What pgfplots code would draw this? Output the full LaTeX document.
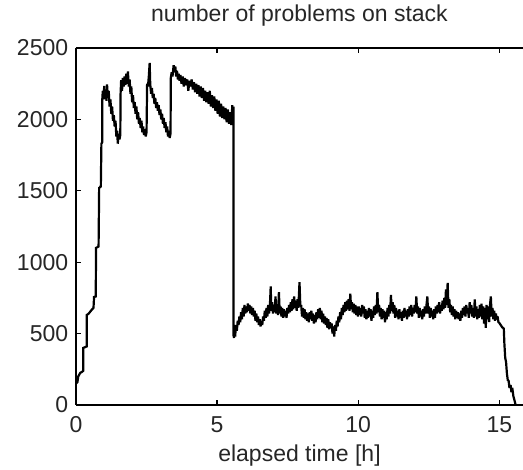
\documentclass[border=0pt]{standalone}
\usepackage{pgfplots}
\pgfplotsset{compat=1.18}
\usepackage{pgfplotstable}
\usepackage{fontspec}
\setmainfont{Liberation Sans}
\pgfplotstableread{
t v
0.00 150
0.05 160
0.08 200
0.15 225
0.20 230
0.26 240
0.26 400
0.32 405
0.38 410
0.38 630
0.45 640
0.55 665
0.62 680
0.64 756
0.70 760
0.71 1100
0.80 1110
0.82 1520
0.88 1530
0.90 1830
0.93 1840
0.93 2135
0.95 2200
0.98 2150
1.00 2235
1.02 2140
1.05 2210
1.08 2130
1.10 2245
1.13 2150
1.16 2200
1.19 2090
1.22 2140
1.25 2040
1.28 2090
1.31 1990
1.34 2030
1.37 1950
1.40 1990
1.43 1880
1.46 1920
1.48 1830
1.51 1900
1.54 1860
1.57 1890
1.58 2180
1.60 2275
1.63 2200
1.66 2290
1.69 2230
1.72 2300
1.75 2240
1.78 2320
1.81 2250
1.84 2335
1.87 2230
1.90 2280
1.93 2180
1.96 2230
1.99 2120
2.02 2170
2.05 2080
2.08 2120
2.11 2040
2.14 2090
2.17 2000
2.20 2050
2.23 1970
2.26 2010
2.29 1940
2.32 1990
2.35 1910
2.38 1950
2.41 1890
2.44 1930
2.47 1880
2.50 1910
2.52 2250
2.55 2230
2.58 2300
2.61 2395
2.63 2250
2.66 2180
2.69 2220
2.72 2150
2.75 2180
2.78 2110
2.81 2150
2.84 2080
2.87 2120
2.90 2060
2.93 2100
2.96 2030
2.99 2070
3.02 2000
3.05 2040
3.08 1970
3.11 2010
3.14 1940
3.17 1980
3.20 1910
3.23 1950
3.26 1880
3.29 1920
3.32 1870
3.35 1900
3.36 2290
3.39 2330
3.42 2300
3.46 2380
3.49 2330
3.52 2370
3.55 2300
3.58 2340
3.61 2280
3.64 2320
3.67 2270
3.70 2310
3.74 2250
3.78 2300
3.82 2230
3.86 2290
3.90 2240
3.94 2280
3.98 2200
4.02 2270
4.06 2230
4.10 2280
4.14 2210
4.18 2260
4.22 2190
4.26 2250
4.30 2180
4.34 2240
4.38 2160
4.42 2230
4.46 2150
4.50 2220
4.54 2130
4.58 2200
4.62 2120
4.66 2190
4.70 2110
4.74 2200
4.78 2090
4.82 2170
4.86 2080
4.90 2160
4.94 2060
4.98 2140
5.02 2040
5.06 2130
5.10 2020
5.14 2110
5.18 2010
5.22 2090
5.26 2000
5.30 2080
5.34 1980
5.38 2070
5.42 1970
5.46 2050
5.50 1960
5.54 2100
5.56 1980
5.58 2090
5.58 490
5.60 470
5.62 540
5.64 480
5.67 560
5.70 520
5.73 590
5.76 560
5.79 620
5.82 580
5.85 650
5.88 600
5.91 680
5.94 620
5.97 700
6.00 640
6.03 690
6.06 650
6.09 710
6.12 660
6.15 700
6.18 640
6.21 690
6.24 630
6.27 680
6.30 620
6.33 660
6.36 590
6.39 640
6.42 580
6.45 620
6.48 560
6.51 600
6.54 550
6.57 590
6.60 560
6.63 620
6.66 590
6.69 660
6.72 610
6.75 680
6.78 620
6.81 700
6.84 640
6.87 690
6.90 830
6.92 660
6.95 720
6.98 640
7.01 700
7.04 650
7.07 760
7.10 640
7.13 700
7.16 630
7.19 790
7.22 640
7.25 690
7.28 620
7.31 680
7.34 610
7.37 670
7.40 620
7.43 660
7.46 610
7.49 680
7.52 640
7.55 700
7.58 650
7.61 720
7.64 660
7.67 740
7.70 670
7.73 760
7.76 680
7.79 730
7.82 660
7.85 740
7.88 680
7.92 860
7.95 690
7.98 700
8.01 620
8.04 680
8.07 610
8.10 670
8.13 600
8.16 650
8.19 590
8.22 640
8.25 580
8.28 650
8.31 600
8.34 660
8.37 590
8.40 640
8.43 570
8.46 630
8.49 580
8.52 650
8.55 600
8.58 670
8.61 610
8.64 680
8.67 600
8.70 660
8.73 580
8.76 640
8.79 570
8.82 620
8.85 560
8.88 610
8.91 540
8.94 600
8.97 530
9.00 580
9.03 540
9.06 570
9.09 500
9.12 550
9.15 480
9.18 560
9.21 520
9.24 590
9.27 550
9.30 620
9.33 580
9.36 650
9.39 600
9.42 680
9.45 630
9.48 700
9.51 650
9.54 720
9.57 660
9.60 730
9.63 670
9.66 740
9.69 660
9.72 780
9.75 670
9.78 720
9.81 650
9.84 710
9.87 640
9.90 700
9.93 630
9.96 690
9.99 620
10.02 690
10.05 630
10.08 680
10.11 620
10.14 700
10.17 640
10.20 690
10.23 610
10.26 670
10.29 600
10.32 660
10.35 610
10.38 680
10.41 620
10.44 670
10.47 590
10.50 660
10.53 610
10.56 690
10.59 630
10.62 700
10.65 640
10.68 790
10.71 650
10.74 700
10.77 620
10.80 680
10.83 600
10.86 670
10.89 610
10.92 660
10.95 580
10.98 650
11.01 600
11.04 680
11.07 620
11.10 700
11.13 640
11.16 770
11.19 660
11.22 720
11.25 640
11.28 700
11.31 610
11.34 680
11.37 620
11.40 660
11.43 600
11.46 670
11.49 610
11.52 650
11.55 590
11.58 660
11.61 610
11.64 680
11.67 620
11.70 660
11.73 600
11.76 670
11.79 620
11.82 690
11.85 630
11.88 700
11.91 620
11.94 680
11.97 640
12.00 700
12.03 650
12.06 760
12.09 640
12.12 690
12.15 610
12.18 680
12.21 620
12.24 660
12.27 600
12.30 670
12.33 620
12.36 690
12.39 640
12.42 700
12.45 760
12.48 640
12.51 690
12.54 610
12.57 680
12.60 620
12.63 660
12.66 600
12.69 670
12.72 610
12.75 690
12.78 640
12.81 700
12.84 650
12.87 720
12.90 640
12.93 700
12.96 660
12.99 730
13.02 670
13.05 750
13.08 680
13.11 810
13.14 700
13.17 855
13.20 680
13.23 740
13.26 650
13.29 700
13.32 630
13.35 690
13.38 620
13.41 670
13.44 600
13.47 660
13.50 610
13.53 650
13.56 600
13.59 640
13.62 590
13.65 660
13.68 610
13.71 680
13.74 630
13.77 690
13.80 620
13.83 700
13.86 640
13.89 680
13.92 610
13.95 720
13.98 640
14.01 700
14.04 620
14.07 680
14.10 610
14.13 740
14.16 620
14.19 690
14.22 600
14.25 670
14.28 610
14.31 700
14.34 620
14.37 710
14.40 600
14.43 690
14.46 570
14.49 680
14.52 540
14.55 700
14.58 600
14.61 690
14.64 580
14.67 700
14.70 760
14.73 620
14.76 680
14.79 600
14.82 660
14.85 590
14.88 640
14.91 600
14.94 620
14.97 580
15.00 575
15.05 560
15.10 545
15.16 535
15.18 430
15.21 330
15.24 300
15.27 220
15.30 175
15.33 170
15.36 120
15.40 140
15.43 90
15.46 120
15.50 60
15.53 40
15.56 15
15.58 0
}\stackdata
\begin{document}
\fontsize{23}{27}\selectfont
\begin{tikzpicture}
\useasboundingbox (-76pt,-65pt) rectangle (447pt,405pt);
\begin{axis}[
  at={(0pt,0pt)}, anchor=south west,
  scale only axis,
  width=447pt, height=357pt,
  xmin=0, xmax=15.84,
  ymin=0, ymax=2500,
  axis x line*=box, axis y line*=left,
  xtick={0,5,10,15},
  ytick={0,500,1000,1500,2000,2500},
  tick align=inside,
  major tick length=5pt,
  tick style={black, line width=1.3pt},
  axis line style={black, line width=1.6pt},
  /pgf/number format/assume math mode=true,
  scaled y ticks=false,
  yticklabel style={/pgf/number format/1000 sep={}, font=\fontsize{23}{27}\selectfont, text=black!85},
  xticklabel style={font=\fontsize{23}{27}\selectfont, text=black!85, yshift=-4pt},
  title={number of problems on stack},
  title style={at={(0.5,1)}, anchor=base, yshift=20pt, font=\fontsize{23}{27}\selectfont, text=black!85},
  xlabel={elapsed time [h]},
  xlabel style={at={(0.5,0)}, anchor=base, yshift=-57pt, font=\fontsize{23}{27}\selectfont, text=black!85},
  clip=false,
]
\addplot[black, line width=2.2pt, mark=none, line join=miter, miter limit=2] table[x=t, y=v] {\stackdata};
\end{axis}
\end{tikzpicture}
\end{document}
